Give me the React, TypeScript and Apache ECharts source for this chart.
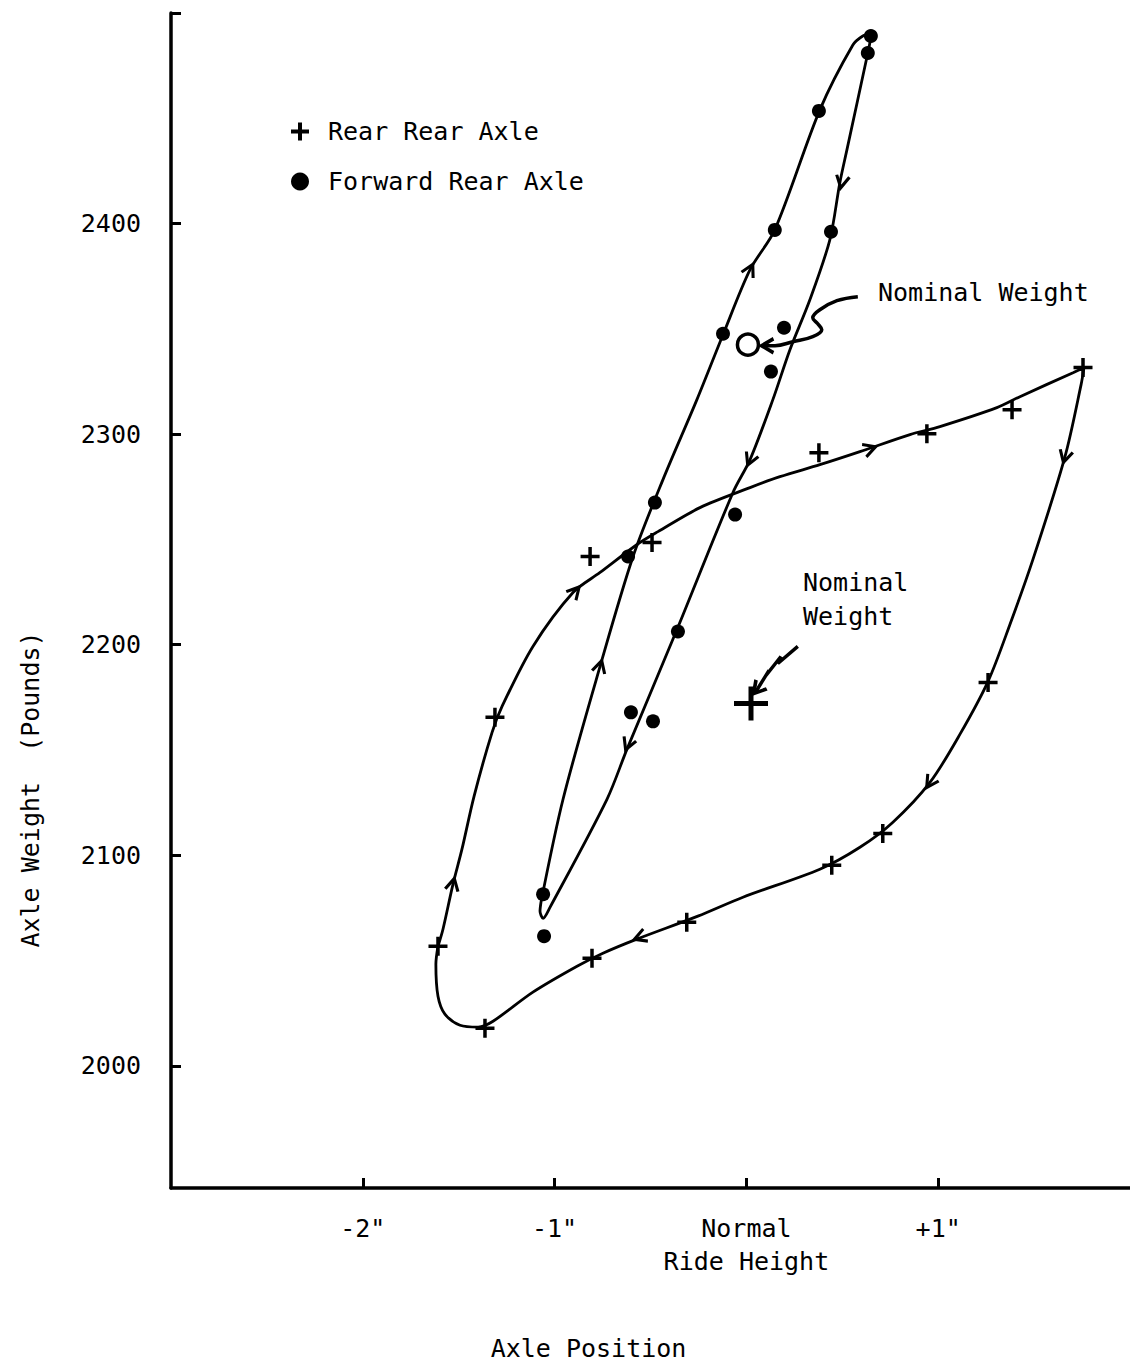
import React, { useEffect, useRef } from "react";
import * as echarts from "echarts";

// Axis ranges / ticks
const X_MIN = -3;
const X_MAX = 2;
const Y_MIN = 1942;
const Y_MAX = 2500;
const xTickValues = [-2, -1, 0, 1];
const xTickLabels = ['-2"', '-1"', "Normal\nRide Height", '+1"'];
const yTickValues = [2000, 2100, 2200, 2300, 2400];

// Measured points: Rear Rear Axle (+)
const rearRearPoints: number[][] = [
  [-1.608, 2056.8], [-1.363, 2017.9], [-0.805, 2051.1], [-0.311, 2068.2],
  [0.445, 2095.3], [0.711, 2110.4], [1.26, 2182.1], [1.755, 2331.6],
  [1.385, 2311.6], [0.941, 2300.2], [0.378, 2291.2], [-0.492, 2248.5],
  [-0.815, 2241.9], [-1.311, 2165.5],
];

// Measured points: Forward Rear Axle (dots)
const forwardRearPoints: number[][] = [
  [0.649, 2489.1], [0.633, 2481.0], [0.378, 2453.5], [0.148, 2397.0],
  [0.441, 2396.1], [-0.122, 2347.7], [0.196, 2350.5], [0.128, 2329.7],
  [-0.477, 2267.5], [-0.059, 2261.8], [-0.617, 2241.9], [-0.357, 2206.3],
  [-0.602, 2167.9], [-0.487, 2163.6], [-1.06, 2081.5], [-1.055, 2061.6],
];

// Hand-drawn hysteresis curve through the rear rear axle data
const rearRearCurve: number[][] = [
  [-1.608, 2056.8], [-1.582, 2064.9], [-1.53, 2086.2], [-1.483, 2102.9],
  [-1.42, 2128.0], [-1.326, 2158.4], [-1.274, 2170.7],
  [-1.113, 2199.2], [-0.904, 2224.8], [-0.763, 2234.3], [-0.57, 2247.6],
  [-0.461, 2253.7], [-0.242, 2265.1], [0.019, 2274.6], [0.175, 2279.8],
  [0.383, 2285.5], [0.592, 2291.7], [0.853, 2299.8], [1.009, 2303.6],
  [1.306, 2312.6], [1.426, 2317.8], [1.703, 2329.2], [1.76, 2331.6],
  [1.745, 2323.5], [1.661, 2289.3], [1.494, 2240.5], [1.374, 2209.6],
  [1.26, 2182.6], [1.113, 2157.4], [0.957, 2134.6], [0.764, 2115.7],
  [0.592, 2103.8], [0.383, 2093.4], [-0.018, 2080.1], [-0.253, 2071.1],
  [-0.571, 2060.2], [-0.748, 2053.5], [-0.883, 2047.3], [-1.113, 2035.0],
  [-1.321, 2021.2], [-1.399, 2018.4], [-1.493, 2019.3], [-1.572, 2024.6],
  [-1.608, 2033.1], [-1.619, 2048.3], [-1.608, 2056.8],
];

// Hand-drawn curve through the forward rear axle data
const forwardRearCurve: number[][] = [
  [-1.071, 2077.7], [-0.956, 2126.6],
  [-0.763, 2189.7], [-0.591, 2241.9], [-0.435, 2278.4], [-0.258, 2316.4],
  [-0.122, 2347.2], [0.019, 2378.1], [0.148, 2397.0], [0.383, 2454.0],
  [0.555, 2484.8], [0.607, 2489.1], [0.654, 2490.5], [0.633, 2481.0],
  [0.524, 2435.0], [0.487, 2419.3], [0.435, 2392.3], [0.331, 2363.8],
  [0.227, 2340.1], [0.138, 2316.4], [0.019, 2287.9], [-0.07, 2272.3],
  [-0.362, 2207.2], [-0.623, 2150.3], [-0.727, 2126.6], [-1.024, 2075.3],
  [-1.06, 2070.1], [-1.076, 2073.4], [-1.071, 2077.7],
];

// Direction arrowheads along the curves: [x, y, rotation in degrees]
const curveArrows: number[][] = [
  [0.644, 2293.1, 109], [1.661, 2289.3, -15], [0.957, 2134.6, -33],
  [-0.555, 2061.1, -69], [-1.53, 2086.2, 167], [-0.893, 2225.3, 138],
  [-0.763, 2189.7, 164], [0.019, 2378.1, 153], [0.498, 2419.8, -11],
  [0.019, 2287.9, -23], [-0.618, 2152.7, -22],
];

// Nominal weight markers
const nominalForward: number[][] = [[0.008, 2342.5]];
const nominalRear: number[][] = [[0.024, 2172.1]];

// Annotation pointer lines
const forwardPointer: number[][] = [
  [0.581, 2365.3], [0.472, 2363.4], [0.383, 2359.1], [0.346, 2355.3],
  [0.372, 2352.4], [0.393, 2349.6], [0.346, 2346.3], [0.242, 2343.9],
  [0.149, 2342.0], [0.081, 2342.0],
];
const rearPointer: number[][] = [
  [0.268, 2199.2], [0.164, 2191.1], [0.18, 2194.4], [0.102, 2185.4],
  [0.118, 2187.8], [0.05, 2177.8],
];
const pointerHeads: number[][] = [
  [0.11, 2342.0, -90], [0.058, 2179.0, -40],
];

// Annotation labels: [x, y, text]
const annotations: (number | string)[][] = [
  [0.686, 2367.2, "Nominal Weight"],
  [0.295, 2221.5, "Nominal\nWeight"],
];

const FONT = "'DejaVu Sans Mono', 'Liberation Mono', monospace";
const PLUS = "path://M0,6 L12,6 M6,0 L6,12";
const CHEVRON = "path://M0,0 L6,10 L12,0";

export default function App() {
  const ref = useRef<HTMLDivElement>(null);
  useEffect(() => {
    if (!ref.current) return;
    const chart = echarts.init(ref.current, null, { renderer: "svg" });
    const curveStyle = { color: "#000", width: 2.8 };
    chart.setOption({
      animation: false,
      backgroundColor: "#fff",
      textStyle: { fontFamily: FONT, color: "#000" },
      grid: { left: 171, right: 0, top: 13, bottom: 177 },
      legend: {
        data: [
          { name: "Rear Rear Axle", itemStyle: { borderWidth: 4 } },
          { name: "Forward Rear Axle" },
        ],
        orient: "vertical",
        left: 284,
        top: 114,
        itemWidth: 18,
        itemHeight: 18,
        itemGap: 25,
        textStyle: { fontFamily: FONT, fontSize: 25, color: "#000", padding: [0, 0, 0, 14] },
      },
      xAxis: {
        type: "value",
        min: X_MIN,
        max: X_MAX,
        splitLine: { show: false },
        axisLine: { onZero: false, lineStyle: { color: "#000", width: 3.5 } },
        axisTick: { inside: true, length: 10, customValues: xTickValues, lineStyle: { color: "#000", width: 3 } },
        axisLabel: {
          customValues: xTickValues,
          formatter: (v: number) => xTickLabels[xTickValues.indexOf(Math.round(v))] ?? "",
          fontSize: 25,
          lineHeight: 33,
          margin: 24,
          color: "#000",
          fontFamily: FONT,
        },
        name: "Axle Position",
        nameLocation: "middle",
        nameGap: 148,
        nameTextStyle: { fontSize: 25, fontFamily: FONT, color: "#000", padding: [0, 124, 0, 0] },
      },
      yAxis: {
        type: "value",
        min: Y_MIN,
        max: Y_MAX,
        splitLine: { show: false },
        axisLine: { onZero: false, lineStyle: { color: "#000", width: 3.5 } },
        axisTick: { inside: true, length: 10, customValues: [...yTickValues, Y_MAX], lineStyle: { color: "#000", width: 3 } },
        axisLabel: {
          customValues: yTickValues,
          formatter: (v: number) => String(Math.round(v)),
          fontSize: 25,
          margin: 30,
          color: "#000",
          fontFamily: FONT,
        },
        name: "Axle Weight  (Pounds)",
        nameLocation: "middle",
        nameGap: 128,
        nameTextStyle: { fontSize: 25, fontFamily: FONT, color: "#000", padding: [0, 378, 0, 0] },
      },
      series: [
        { name: "rrCurve", type: "line", data: rearRearCurve, smooth: 0.3, symbol: "none", lineStyle: curveStyle, silent: true, z: 2 },
        { name: "frCurve", type: "line", data: forwardRearCurve, smooth: 0.3, symbol: "none", lineStyle: curveStyle, silent: true, z: 2 },
        { name: "fwdPointer", type: "line", data: forwardPointer, smooth: 0.4, symbol: "none", lineStyle: { color: "#000", width: 3.5 }, silent: true, z: 2 },
        { name: "rearPointer", type: "line", data: rearPointer, smooth: false, symbol: "none", lineStyle: { color: "#000", width: 3.5 }, silent: true, z: 2 },
        {
          name: "arrows",
          type: "scatter",
          data: curveArrows,
          symbol: CHEVRON,
          symbolSize: [13, 12],
          symbolRotate: (v: number[]) => v[2],
          itemStyle: { color: "none", borderColor: "#000", borderWidth: 3, opacity: 1 },
          silent: true,
          z: 3,
        },
        {
          name: "pointerHeads",
          type: "scatter",
          data: pointerHeads,
          symbol: CHEVRON,
          symbolSize: [14, 12],
          symbolRotate: (v: number[]) => v[2],
          itemStyle: { color: "none", borderColor: "#000", borderWidth: 3.5, opacity: 1 },
          silent: true,
          z: 3,
        },
        {
          name: "Rear Rear Axle",
          type: "scatter",
          data: rearRearPoints,
          symbol: PLUS,
          symbolSize: 19,
          itemStyle: { color: "#000", borderColor: "#000", borderWidth: 3.5, opacity: 1 },
          z: 4,
        },
        {
          name: "Forward Rear Axle",
          type: "scatter",
          data: forwardRearPoints,
          symbol: "circle",
          symbolSize: 14,
          itemStyle: { color: "#000", opacity: 1 },
          z: 4,
        },
        {
          name: "nominalRear",
          type: "scatter",
          data: nominalRear,
          symbol: PLUS,
          symbolSize: 34,
          itemStyle: { color: "#000", borderColor: "#000", borderWidth: 5, opacity: 1 },
          z: 4,
        },
        {
          name: "nominalForward",
          type: "scatter",
          data: nominalForward,
          symbol: "circle",
          symbolSize: 21,
          itemStyle: { color: "#fff", borderColor: "#000", borderWidth: 3.5, opacity: 1 },
          z: 5,
        },
        {
          name: "annotations",
          type: "scatter",
          data: annotations,
          symbolSize: 0,
          silent: true,
          itemStyle: { opacity: 1 },
          label: {
            show: true,
            position: "right",
            distance: 0,
            formatter: (p: any) => p.value[2],
            fontSize: 25,
            lineHeight: 34,
            fontFamily: FONT,
            color: "#000",
            align: "left",
          },
          z: 5,
        },
      ],
    });
    return () => chart.dispose();
  }, []);
  return <div ref={ref} style={{ position: "absolute", left: 0, top: 0, width: 1130, height: 1366 }} />;
}
